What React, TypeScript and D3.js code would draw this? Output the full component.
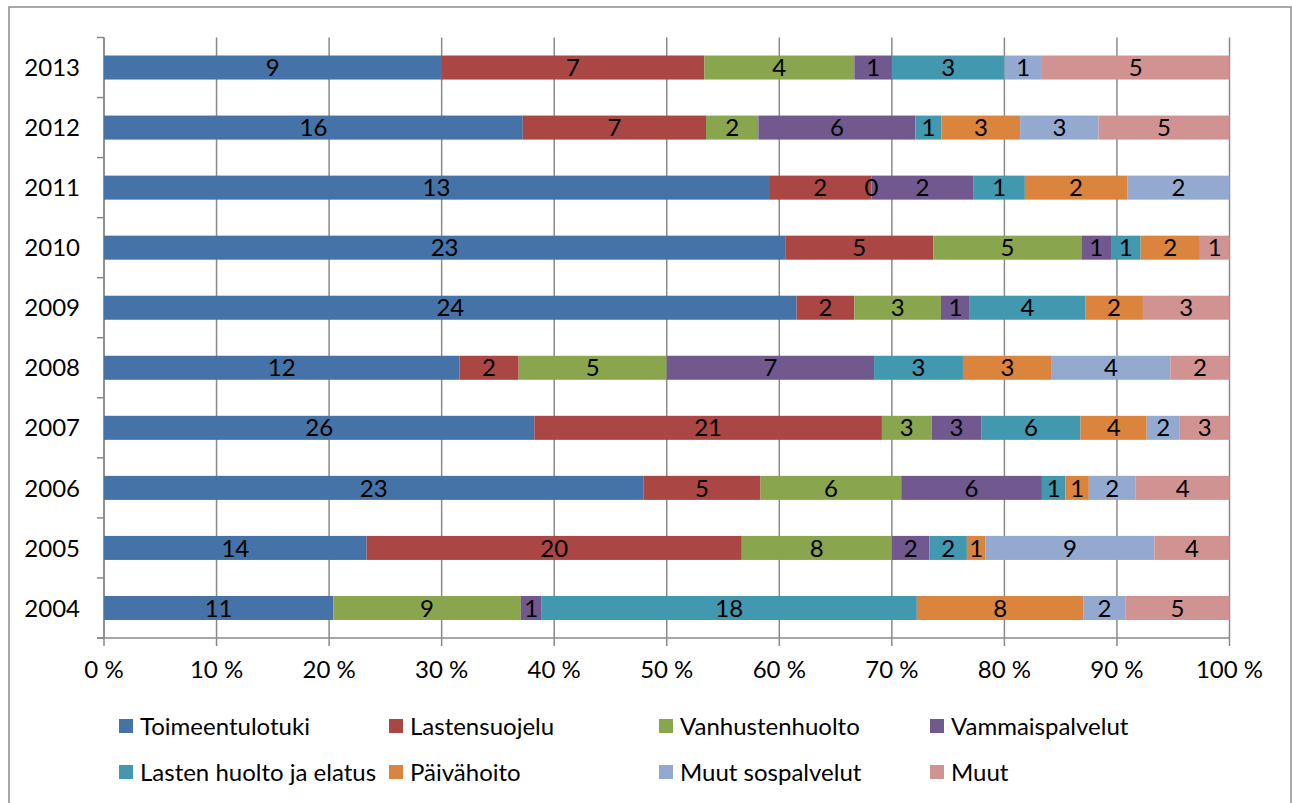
import React from "react";
import * as d3 from "d3";

const years = ["2013", "2012", "2011", "2010", "2009", "2008", "2007", "2006", "2005", "2004"];
const seriesNames = [
  "Toimeentulotuki",
  "Lastensuojelu",
  "Vanhustenhuolto",
  "Vammaispalvelut",
  "Lasten huolto ja elatus",
  "Päivähoito",
  "Muut sospalvelut",
  "Muut",
];
const colors = ["#4572A7", "#AA4643", "#89A54E", "#71588F", "#4198AF", "#DB843D", "#93A9CF", "#D19392"];

// values per series, in the order of years above (null = no segment)
const toimeentulotuki = [9, 16, 13, 23, 24, 12, 26, 23, 14, 11];
const lastensuojelu = [7, 7, 2, 5, 2, 2, 21, 5, 20, null];
const vanhustenhuolto = [4, 2, 0, 5, 3, 5, 3, 6, 8, 9];
const vammaispalvelut = [1, 6, 2, 1, 1, 7, 3, 6, 2, 1];
const lastenHuolto = [3, 1, 1, 1, 4, 3, 6, 1, 2, 18];
const paivahoito = [null, 3, 2, 2, 2, 3, 4, 1, 1, 8];
const muutSospalvelut = [1, 3, 2, null, null, 4, 2, 2, 9, 2];
const muut = [5, 5, null, 1, 3, 2, 3, 4, 4, 5];

const seriesValues = [
  toimeentulotuki,
  lastensuojelu,
  vanhustenhuolto,
  vammaispalvelut,
  lastenHuolto,
  paivahoito,
  muutSospalvelut,
  muut,
];
const xTicks = [0, 0.1, 0.2, 0.3, 0.4, 0.5, 0.6, 0.7, 0.8, 0.9, 1];

const W = 1292;
const H = 803;
const FONT = "Lato, 'DejaVu Sans', sans-serif";

export default function App() {
  const left = 104;
  const right = 1229.5;
  const top = 37.5;
  const bottom = 638;

  const x = d3.scaleLinear().domain([0, 1]).range([left, right]);
  const y = d3.scaleBand().domain(years).range([top, bottom]).paddingInner(0.6).paddingOuter(0.3);
  const yOuter = d3.scaleBand().domain(years).range([top, bottom]);

  const rows = years.map((yr, i) => {
    const vals = seriesValues.map((s) => s[i]);
    const total = d3.sum(vals, (v) => (v == null ? 0 : v));
    let acc = 0;
    const segs = vals.map((v, si) => {
      const x0 = acc / total;
      const val = v == null ? 0 : v;
      acc += val;
      return { si, v, x0, x1: acc / total };
    });
    return { yr, segs };
  });

  const gridColor = "#8a8a8a";
  const boundaries = years.map((yr) => yOuter(yr) as number).concat([bottom]);

  const legendCols = [119, 389, 659, 930];
  const legendRows = [726, 772];

  return (
    <svg width={W} height={H} style={{ position: "absolute", left: 0, top: 0, background: "#fff" }}>
      <rect x={9} y={7} width={1282} height={810} fill="#fff" stroke="#8c8c8c" strokeWidth={1.5} />
      {/* gridlines */}
      {xTicks.map((t) => (
        <line key={"g" + t} x1={x(t)} x2={x(t)} y1={top} y2={bottom + 8} stroke={gridColor} strokeWidth={1.5} />
      ))}
      {/* category axis */}
      <line x1={left} x2={left} y1={top} y2={bottom} stroke={gridColor} strokeWidth={1.5} />
      {boundaries.map((b, i) => (
        <line key={"ct" + i} x1={97} x2={left} y1={b} y2={b} stroke={gridColor} strokeWidth={1.5} />
      ))}
      {/* bars */}
      {rows.map((r) =>
        r.segs.map((s) =>
          s.v == null || s.v === 0 ? null : (
            <rect
              key={r.yr + "-" + s.si}
              x={x(s.x0)}
              y={y(r.yr)}
              width={x(s.x1) - x(s.x0)}
              height={y.bandwidth()}
              fill={colors[s.si]}
            />
          )
        )
      )}
      {/* value axis line */}
      <line x1={97} x2={right} y1={bottom} y2={bottom} stroke={gridColor} strokeWidth={1.5} />
      {/* bar labels */}
      {rows.map((r) =>
        r.segs.map((s) =>
          s.v == null ? null : (
            <text
              key={"l" + r.yr + "-" + s.si}
              x={x((s.x0 + s.x1) / 2)}
              y={(y(r.yr) as number) + y.bandwidth() / 2}
              dy="0.36em"
              textAnchor="middle"
              fontFamily={FONT}
              fontSize={24}
              fill="#000"
            >
              {s.v}
            </text>
          )
        )
      )}
      {/* year labels */}
      {years.map((yr) => (
        <text
          key={"y" + yr}
          x={80}
          y={(y(yr) as number) + y.bandwidth() / 2}
          dy="0.36em"
          textAnchor="end"
          fontFamily={FONT}
          fontSize={24}
          fill="#000"
        >
          {yr}
        </text>
      ))}
      {/* x tick labels */}
      {xTicks.map((t) => (
        <text
          key={"xt" + t}
          x={x(t)}
          y={678}
          textAnchor="middle"
          fontFamily={FONT}
          fontSize={24}
          fill="#000"
        >
          {Math.round(t * 100) + " %"}
        </text>
      ))}
      {/* legend */}
      {seriesNames.map((name, i) => {
        const cx = legendCols[i % 4];
        const cy = legendRows[Math.floor(i / 4)];
        return (
          <g key={"lg" + i}>
            <rect x={cx} y={cy - 7} width={14} height={14} fill={colors[i]} />
            <text x={cx + 21} y={cy} dy="0.36em" fontFamily={FONT} fontSize={24} fill="#000">
              {name}
            </text>
          </g>
        );
      })}
    </svg>
  );
}
